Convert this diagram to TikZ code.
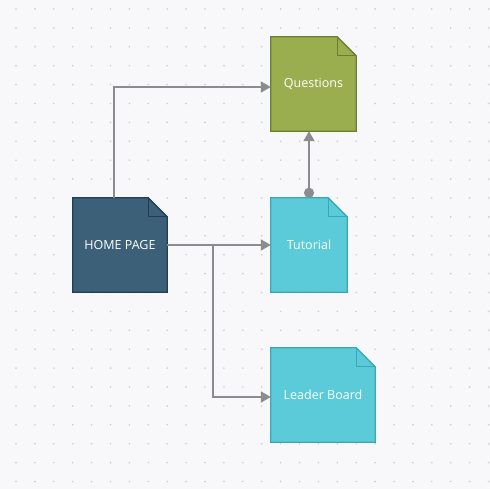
\documentclass[tikz,border=0pt]{standalone}
\usepackage{fontspec}
\setmainfont{Open Sans}
\usetikzlibrary{arrows.meta,backgrounds,calc}
\definecolor{bg}{HTML}{F8F8FA}
\definecolor{dotc}{HTML}{CACCD2}
\definecolor{linec}{HTML}{8A8C90}
\definecolor{homef}{HTML}{3D6079}
\definecolor{homed}{HTML}{1F3F55}
\definecolor{qf}{HTML}{9AAD4F}
\definecolor{qd}{HTML}{6B7F33}
\definecolor{tf}{HTML}{5BCBD9}
\definecolor{td}{HTML}{38A9B7}
\tikzset{
  docnode/.style={draw=none, fill=none, inner sep=0pt, minimum height=94pt, text=white, font=\fontsize{12.5}{14}\selectfont},
  conn/.style={draw=linec, line width=1.8pt, -{Triangle[length=10pt,width=11pt]}},
}
\newcommand\mydoc[3]{%
  \begin{pgfonlayer}{background}
  \draw[fill=#2, draw=#3, line width=1.3pt, line join=miter]
    (#1.north west) -- ([xshift=-19pt]#1.north east) -- ([yshift=-19pt]#1.north east)
    -- (#1.south east) -- (#1.south west) -- cycle;
  \draw[draw=#3, line width=1.3pt]
    ([xshift=-19pt]#1.north east) -- ([xshift=-19pt,yshift=-19pt]#1.north east) -- ([yshift=-19pt]#1.north east);
  \end{pgfonlayer}}
\newcommand\dtext[1]{\raisebox{-1.5pt}{#1}}
\begin{document}
\begin{tikzpicture}[x=1pt,y=-1pt]
\begin{pgfonlayer}{background}
\fill[bg] (0,0) rectangle (490,489);
\foreach \i in {0,...,25}{\foreach \j in {0,...,25}{
  \fill[dotc] ({16+18.9*\i},{9+18.9*\j}) circle (0.9pt);}}
\end{pgfonlayer}
\useasboundingbox (0,0) rectangle (490,489);
\node[docnode, minimum width=94pt] (home) at (120,245) {\dtext{HOME PAGE}};
\node[docnode, minimum width=85pt] (q) at (313.5,84) {\dtext{Questions}};
\node[docnode, minimum width=76pt] (tut) at (309,245) {\dtext{Tutorial}};
\node[docnode, minimum width=104pt] (lead) at (323,395) {\dtext{Leader Board}};
\mydoc{home}{homef}{homed}
\mydoc{q}{qf}{qd}
\mydoc{tut}{tf}{td}
\mydoc{lead}{tf}{td}
\coordinate (br) at ($(home.east)!0.442!(tut.west)$);
\draw[conn] ([xshift=-6pt]home.north) |- ([yshift=-3pt]q.west);
\draw[conn] (home.east) -- (tut.west);
\draw[conn] (br) |- ([yshift=-2pt]lead.west);
\draw[conn, {Circle[length=10pt,width=10pt]}-{Triangle[length=10pt,width=11pt]}] (tut.north) -- (tut.north |- q.south);
\end{tikzpicture}
\end{document}
